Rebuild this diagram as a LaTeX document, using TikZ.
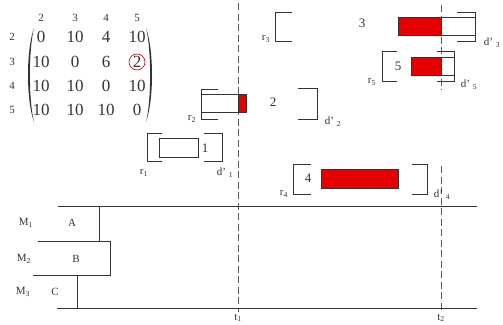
\documentclass[tikz,border=0pt]{standalone}
\usepackage{fontspec}
\setmainfont{Liberation Serif}
\begin{document}
\begin{tikzpicture}[x=1pt,y=-1pt,
  ln/.style={draw=black!80, line width=0.8pt},
  dsh/.style={draw=black!65, line width=0.9pt, dash pattern=on 7pt off 3.5pt},
  redbox/.style={fill=red!90!black, draw=black!80, line width=0.7pt},
  whitebox/.style={fill=white, draw=black!80, line width=0.7pt},
  small/.style={font=\fontsize{11}{11}\selectfont, inner sep=0pt, text=black!80},
  jobl/.style={font=\fontsize{13}{13}\selectfont, inner sep=0pt, text=black!80},
  mat/.style={font=\fontsize{17}{17}\selectfont, inner sep=0pt, text=black!80},
]
\useasboundingbox (0,0) rectangle (503,324);

% ---- matrix ----
\foreach \c/\x in {2/41,3/75,4/106,5/137} \node[small] (h\c) at (\x,18) {\c};
\foreach \r/\y in {2/37,3/62,4/86,5/110} \node[small] (l\r) at (12,\y) {\r};
\foreach \v/\x [count=\i] in {0/41,10/75,4/106,10/137} \node[mat] (a1\i) at (\x,37) {\v};
\foreach \v/\x [count=\i] in {10/41,0/75,6/106,2/137} \node[mat] (a2\i) at (\x,62) {\v};
\foreach \v/\x [count=\i] in {10/41,10/75,0/106,10/137} \node[mat] (a3\i) at (\x,86) {\v};
\foreach \v/\x [count=\i] in {10/41,10/75,10/106,0/137} \node[mat] (a4\i) at (\x,110) {\v};
\draw[red!75!black, line width=0.6pt] (137,62) circle (8);
\fill[black!80] (34,28) .. controls (26,50) and (26,100) .. (34,122)
  .. controls (28.5,100) and (28.5,50) .. (34,28);
\fill[black!80] (146,28) .. controls (154,50) and (154,100) .. (146,122)
  .. controls (151.5,100) and (151.5,50) .. (146,28);

% ---- dashed time lines ----
\draw[dsh] (238,3) -- (238,312);
\draw[dsh] (441,5) -- (441,90);
\draw[dsh] (441,166) -- (441,312);

% ---- job 1 ----
\draw[whitebox] (159,138) rectangle (198,157);
\draw[ln] (162,133) -- (147,133) -- (147,161) -- (162,161);
\draw[ln] (204,133) -- (222,133) -- (222,161) -- (204,161);
\node[jobl] (j1) at (205,148) {1};
\node[small] (r1) at (144,173) {r\textsubscript{1}};
\node[small] (d1) at (225,173) {d' \textsubscript{1}};

% ---- job 2 ----
\draw[whitebox] (201,94) rectangle (238,112);
\draw[redbox] (238,94) rectangle (246,112);
\draw[ln] (218,89) -- (201,89) -- (201,119) -- (218,119);
\draw[ln] (298,88) -- (317,88) -- (317,119) -- (298,119);
\node[jobl] (j2) at (273,102) {2};
\node[small] (r2) at (192,119) {r\textsubscript{2}};
\node[small] (d2) at (333,122) {d' \textsubscript{2}};

% ---- job 3 ----
\draw[redbox] (398,17) rectangle (441,35);
\draw[whitebox] (441,17) rectangle (475,35);
\draw[ln] (292,12) -- (275,12) -- (275,41) -- (292,41);
\draw[ln] (457,12) -- (475,12) -- (475,41) -- (457,41);
\node[jobl] (j3) at (362,23) {3};
\node[small] (r3) at (266,39) {r\textsubscript{3}};
\node[small] (d3) at (492,43) {d' \textsubscript{3}};

% ---- job 5 ----
\draw[redbox] (411,57) rectangle (441,75);
\draw[whitebox] (441,57) rectangle (454,75);
\draw[ln] (397,51) -- (382,51) -- (382,81) -- (397,81);
\draw[ln] (437,51) -- (454,51) -- (454,81) -- (437,81);
\node[jobl] (j5) at (398,66) {5};
\node[small] (r5) at (372,82) {r\textsubscript{5}};
\node[small] (d5) at (469,85) {d' \textsubscript{5}};

% ---- job 4 ----
\draw[redbox] (321,169) rectangle (398,188);
\draw[ln] (311,164) -- (293,164) -- (293,194) -- (311,194);
\draw[ln] (412,164) -- (427,164) -- (427,194) -- (412,194);
\node[jobl] (j4) at (308,178) {4};
\node[small] (r4) at (284,194) {r\textsubscript{4}};
\node[small] (d4) at (442,195) {d' \textsubscript{4}};

% ---- Gantt / machines ----
\draw[ln] (58,206) -- (477,206);
\draw[ln] (57,308) -- (477,308);
\draw[ln] (99,206) -- (99,241);
\draw[ln] (38,241) -- (110,241) -- (110,275) -- (33,275);
\draw[ln] (77,275) -- (77,308);
\node[small] (m1) at (26,223) {M\textsubscript{1}};
\node[small] (m2) at (24,259) {M\textsubscript{2}};
\node[small] (m3) at (23,292) {M\textsubscript{3}};
\node[small] (A) at (72,223) {A};
\node[small] (B) at (76,259) {B};
\node[small] (C) at (55,292) {C};
\node[small] (t1) at (238,318) {t\textsubscript{1}};
\node[small] (t2) at (441,318) {t\textsubscript{2}};
\end{tikzpicture}
\end{document}
